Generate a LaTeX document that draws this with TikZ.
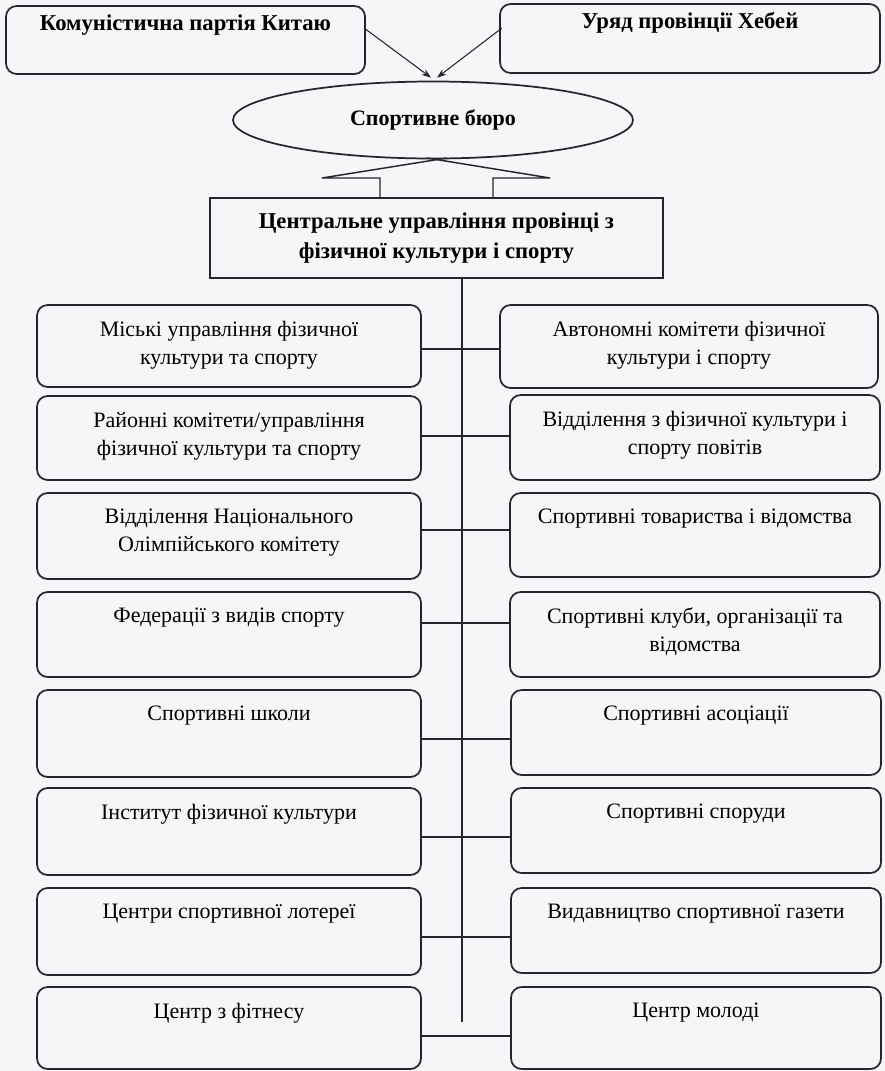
\documentclass[tikz,border=0pt]{standalone}
\usepackage{fontspec}
\setmainfont{Liberation Serif}
\usetikzlibrary{shapes.geometric,arrows.meta,calc}
\definecolor{bgc}{RGB}{246,245,247}
\definecolor{linec}{RGB}{40,36,46}
\begin{document}
\begin{tikzpicture}[x=0.75pt,y=-0.75pt,
  rbox/.style={draw=linec, line width=1.3pt, rounded corners=8pt, inner sep=0pt},
  sbox/.style={draw=linec, line width=1.3pt, inner sep=0pt},
  txt/.style={anchor=north, yshift=-12.5pt, align=center, inner sep=0pt,
    font=\fontsize{16.5}{21}\selectfont, text=black},
  toptxt/.style={anchor=north, yshift=-7pt, align=center, inner sep=0pt,
    font=\bfseries\fontsize{17}{20}\selectfont, text=black},
  conn/.style={draw=linec, line width=1pt},
  arr/.style={draw=linec, line width=0.8pt, -{Stealth[length=7pt,width=5pt]}},
  lcol/.style={rbox, minimum width=384*0.75pt},
  rcol/.style={rbox, minimum width=370*0.75pt}
]
\path[fill=bgc] (0,0) rectangle (885,1071);
\clip (0,0) rectangle (885,1071);

% top level
\node[rbox, minimum width=359*0.75pt, minimum height=68*0.75pt,
  label={[toptxt]north:{Комуністична партія Китаю}}] (kpk) at (185.5,40) {};
\node[rbox, minimum width=380*0.75pt, minimum height=69*0.75pt,
  label={[toptxt]north:{Уряд провінції Хебей}}] (uph) at (690,38.5) {};

\node[ellipse, draw=linec, line width=1.3pt, minimum width=400*0.75pt,
  minimum height=77*0.75pt, inner sep=0pt,
  font=\bfseries\fontsize{16.5}{19}\selectfont] (sb) at (433,120) {\raisebox{3pt}{Спортивне бюро}};

\coordinate (a1) at (364,28);
\coordinate (a2) at (502,28);
\draw[arr] (a1) -- ([xshift=-2*0.75pt,yshift=3*0.75pt]sb.north);
\draw[arr] (a2) -- ([xshift=4*0.75pt,yshift=3*0.75pt]sb.north);

\node[sbox, minimum width=453*0.75pt, minimum height=80*0.75pt, align=center,
  font=\bfseries\fontsize{17}{22.5}\selectfont]
  (cb) at (436.5,238) {Центральне управління провінці з\\фізичної культури і спорту};

% callout wedge from the central box to the sports bureau
\draw[conn, line width=1.1pt] (380,198) -- (380,178) -- (322,178) -- (447,158);
\draw[conn, line width=1.1pt] (493,198) -- (493,178) -- (550,178) -- (427,158);

% trunk
\coordinate (tend) at (462,1022);
\draw[conn, line width=0.8pt] (cb.south -| tend) -- (tend);

% left column
\node[lcol, minimum height=82*0.75pt, label={[txt]north:{Міські управління фізичної\\культури та спорту}}] (l1) at (229,346) {};
\node[lcol, minimum height=84*0.75pt, label={[txt]north:{Районні комітети/управління\\фізичної культури та спорту}}] (l2) at (229,438) {};
\node[lcol, minimum height=86*0.75pt, label={[txt]north:{Відділення Національного\\Олімпійського комітету}}] (l3) at (229,536) {};
\node[lcol, minimum height=85*0.75pt, label={[txt]north:{Федерації з видів спорту}}] (l4) at (229,634.5) {};
\node[lcol, minimum height=87*0.75pt, label={[txt]north:{Спортивні школи}}] (l5) at (229,733.5) {};
\node[lcol, minimum height=87*0.75pt, label={[txt]north:{Інститут фізичної культури}}] (l6) at (229,831.5) {};
\node[lcol, minimum height=87*0.75pt, label={[txt]north:{Центри спортивної лотереї}}] (l7) at (229,931.5) {};
\node[lcol, minimum height=82*0.75pt, label={[txt]north:{Центр з фітнесу}}] (l8) at (229,1028) {};

% right column
\node[rbox, minimum width=378*0.75pt, minimum height=83*0.75pt, label={[txt]north:{Автономні комітети фізичної\\культури і спорту}}] (r1) at (689,346.5) {};
\node[rcol, minimum height=85*0.75pt, label={[txt]north:{Відділення з фізичної культури і\\спорту повітів}}] (r2) at (695,437.5) {};
\node[rcol, minimum height=84*0.75pt, label={[txt]north:{Спортивні товариства і відомства}}] (r3) at (695,535) {};
\node[rcol, minimum height=85*0.75pt, label={[txt]north:{Спортивні клуби, організації та\\відомства}}] (r4) at (695,634.5) {};
\node[rcol, minimum height=85*0.75pt, label={[txt]north:{Спортивні асоціації}}] (r5) at (696,732.5) {};
\node[rcol, minimum height=85*0.75pt, label={[txt]north:{Спортивні споруди}}] (r6) at (696,830.5) {};
\node[rcol, minimum height=85*0.75pt, label={[txt]north:{Видавництво спортивної газети}}] (r7) at (696,930.5) {};
\node[rcol, minimum height=82*0.75pt, label={[txt]north:{Центр молоді}}] (r8) at (696,1028) {};

% horizontal connectors
\foreach \i/\yy in {1/349,2/436,3/530,4/623,5/739,6/837,7/937,8/1036}{
  \coordinate (t\i) at (462,\yy);
  \draw[conn] (l\i.east |- t\i) -- (r\i.west |- t\i);
}
\end{tikzpicture}
\end{document}
